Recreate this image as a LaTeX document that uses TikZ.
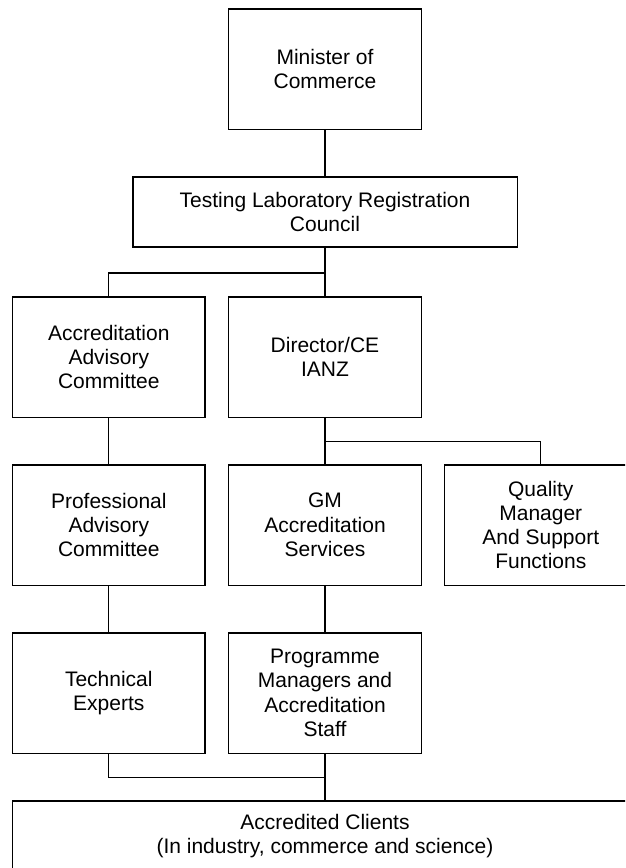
\documentclass[tikz,border=0pt]{standalone}
\usepackage{fontspec}
\setmainfont{Liberation Sans}
\usepackage{tikz}
\tikzset{
  unit/.style = {draw=black, line width=1.3pt, rectangle, align=center, inner sep=0pt,
    font=\fontsize{21}{24.3}\selectfont, minimum width=192.5pt, minimum height=120.3pt},
  wide unit/.style = {unit, minimum height=70pt},
  tie/.style = {line width=1.3pt}
}
\begin{document}
\begin{tikzpicture}[x=1pt,y=-1pt]
\useasboundingbox (0,0) rectangle (625,868);
\clip (0,0) rectangle (625,868);
%\draw[step=50,gray,very thin] (0,0) grid (625,868);

\node[unit] (min) at (325,69) {Minister of\\Commerce};
\node[wide unit, minimum width=384.3pt] (tlrc) at (325,212) {Testing Laboratory Registration\\Council};

\node[unit] (aac) at (108.8,357) {Accreditation\\Advisory\\Committee};
\node[unit] (dir) at (325,357) {Director/CE\\IANZ};

\node[unit] (pac) at (108.8,525) {Professional\\Advisory\\Committee};
\node[unit] (gm) at (325,525) {GM\\Accreditation\\Services};
\node[unit] (qm) at (540.8,525) {Quality\\Manager\\And Support\\Functions};

\node[unit] (te) at (108.8,693) {Technical\\Experts};
\node[unit] (pm) at (325,693) {Programme\\Managers and\\Accreditation\\Staff};

\node[wide unit, minimum width=624.6pt] (ac) at (325,836) {Accredited Clients\\(In industry, commerce and science)};

\coordinate (j1) at (325,273);
\coordinate (j2) at (325,441.7);
\coordinate (j3) at (325,777.3);

 \draw[tie] (min) -- (tlrc);
 \draw[tie] (tlrc) -- (dir);
 \draw[tie] (aac.north) |- (j1);

 \draw[tie] (aac) -- (pac);
 \draw[tie] (pac) -- (te);
 \draw[tie] (dir) -- (gm);
 \draw[tie] (j2) -| (qm.north);
 \draw[tie] (gm) -- (pm);

 \draw[tie] (te.south) |- (j3);
 \draw[tie] (pm) -- (ac);
\end{tikzpicture}
\end{document}
